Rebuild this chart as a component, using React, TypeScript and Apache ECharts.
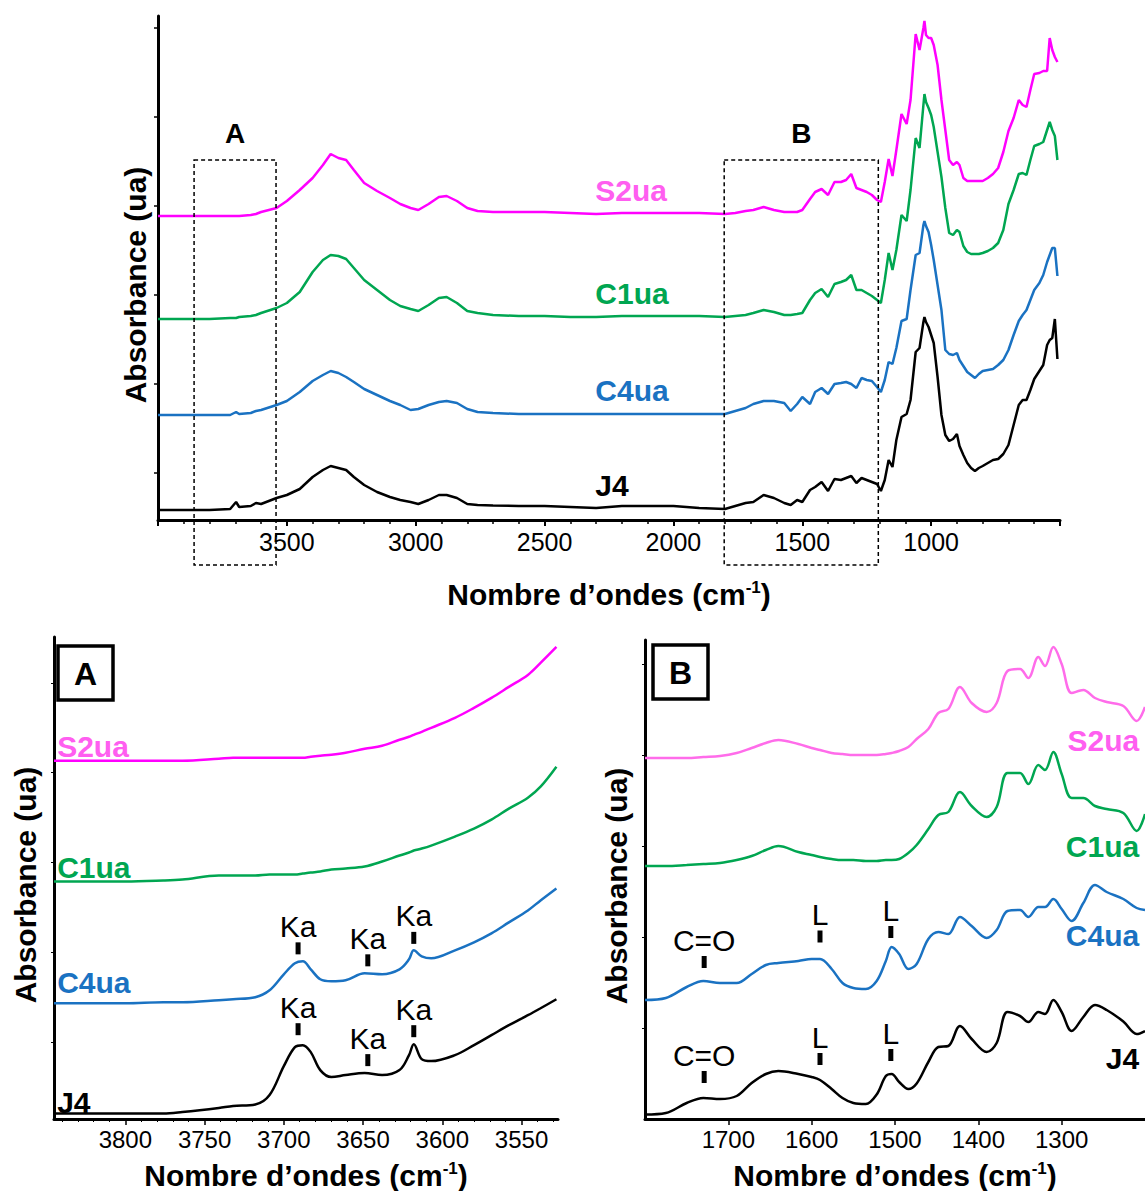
import React, { useEffect, useRef } from "react";
import * as echarts from "echarts";

const FONT = '"Liberation Sans", Arial, Helvetica, sans-serif';

// ---------------- Top panel (full spectrum) ----------------
const topWn = [
  4000, 3900, 3800, 3720, 3697, 3685, 3640, 3620, 3600, 3540,
  3500, 3450, 3400, 3360, 3330, 3300, 3270, 3240, 3200, 3150,
  3100, 3060, 3020, 2990, 2950, 2910, 2880, 2840, 2800, 2760,
  2700, 2600, 2500, 2400, 2300, 2200, 2100, 2000, 1900, 1800,
  1760, 1720, 1690, 1650, 1610, 1570, 1545, 1520, 1500, 1470,
  1450, 1425, 1400, 1375, 1350, 1330, 1310, 1290, 1270, 1250,
  1230, 1210, 1195, 1180, 1165, 1150, 1135, 1115, 1095, 1080,
  1060, 1045, 1030, 1026, 1020, 1010, 1000, 990, 975, 960,
  945, 930, 915, 900, 890, 875, 860, 845, 830, 815,
  800, 780, 760, 740, 720, 700, 680, 660, 645, 630,
  615, 600, 580, 565, 550, 540, 530, 520, 510,
];
const topJ4 = [
  0.10, 0.10, 0.10, 0.11, 0.18, 0.13, 0.14, 0.17, 0.16, 0.22,
  0.25, 0.31, 0.43, 0.50, 0.54, 0.52, 0.50, 0.43, 0.35, 0.28,
  0.23, 0.20, 0.18, 0.16, 0.20, 0.25, 0.25, 0.22, 0.16, 0.15,
  0.145, 0.14, 0.14, 0.13, 0.12, 0.14, 0.14, 0.14, 0.12, 0.11,
  0.14, 0.17, 0.18, 0.25, 0.22, 0.17, 0.15, 0.20, 0.18, 0.30,
  0.33, 0.38, 0.29, 0.41, 0.40, 0.42, 0.44, 0.37, 0.42, 0.40,
  0.38, 0.36, 0.29, 0.40, 0.60, 0.53, 0.80, 1.03, 1.06, 1.20,
  1.68, 1.72, 1.98, 2.03, 1.98, 1.93, 1.85, 1.77, 1.43, 1.05,
  0.85, 0.79, 0.81, 0.86, 0.74, 0.65, 0.57, 0.52, 0.49, 0.52,
  0.54, 0.57, 0.60, 0.61, 0.66, 0.75, 0.95, 1.15, 1.20, 1.20,
  1.30, 1.41, 1.49, 1.55, 1.75, 1.80, 1.82, 2.01, 1.61,
];
const topC4 = [
  1.05, 1.05, 1.05, 1.05, 1.08, 1.06, 1.07, 1.09, 1.10, 1.15,
  1.19, 1.28, 1.39, 1.45, 1.49, 1.47, 1.43, 1.38, 1.31, 1.25,
  1.19, 1.15, 1.10, 1.11, 1.15, 1.18, 1.19, 1.17, 1.11, 1.08,
  1.07, 1.06, 1.06, 1.06, 1.06, 1.06, 1.06, 1.06, 1.06, 1.06,
  1.09, 1.12, 1.16, 1.19, 1.19, 1.17, 1.09, 1.16, 1.23, 1.16,
  1.28, 1.32, 1.26, 1.36, 1.37, 1.38, 1.36, 1.32, 1.42, 1.40,
  1.39, 1.33, 1.28, 1.40, 1.58, 1.56, 1.72, 1.99, 2.01, 2.30,
  2.65, 2.67, 2.95, 2.99, 2.94, 2.88, 2.75, 2.60, 2.35, 2.10,
  1.70, 1.66, 1.65, 1.67, 1.60, 1.54, 1.48, 1.45, 1.42, 1.46,
  1.49, 1.50, 1.51, 1.55, 1.60, 1.70, 1.85, 1.99, 2.05, 2.10,
  2.20, 2.30, 2.37, 2.45, 2.58, 2.65, 2.72, 2.72, 2.44,
];
const topC1 = [
  2.01, 2.01, 2.01, 2.02, 2.02, 2.03, 2.04, 2.05, 2.07, 2.12,
  2.17, 2.28, 2.48, 2.60, 2.65, 2.64, 2.61, 2.52, 2.40, 2.30,
  2.20, 2.14, 2.11, 2.09, 2.15, 2.22, 2.23, 2.17, 2.09, 2.07,
  2.05, 2.04, 2.04, 2.03, 2.03, 2.04, 2.04, 2.04, 2.04, 2.03,
  2.04, 2.05, 2.07, 2.10, 2.08, 2.05, 2.05, 2.06, 2.07, 2.20,
  2.27, 2.31, 2.23, 2.36, 2.38, 2.40, 2.45, 2.30, 2.30, 2.27,
  2.24, 2.20, 2.17, 2.40, 2.67, 2.50, 2.70, 3.05, 2.99, 3.30,
  3.82, 3.72, 4.15, 4.26, 4.18, 4.12, 4.05, 3.93, 3.68, 3.43,
  3.12, 2.87, 2.85, 2.90, 2.88, 2.74, 2.68, 2.66, 2.66, 2.66,
  2.67, 2.69, 2.72, 2.77, 2.90, 3.16, 3.30, 3.46, 3.47, 3.45,
  3.60, 3.74, 3.76, 3.78, 3.90, 3.98, 3.90, 3.84, 3.60,
];
const topS2 = [
  3.04, 3.04, 3.04, 3.04, 3.04, 3.04, 3.05, 3.06, 3.08, 3.12,
  3.19, 3.30, 3.42, 3.55, 3.66, 3.62, 3.60, 3.50, 3.37, 3.29,
  3.22, 3.16, 3.12, 3.10, 3.16, 3.23, 3.24, 3.19, 3.12, 3.09,
  3.08, 3.08, 3.08, 3.07, 3.06, 3.07, 3.07, 3.07, 3.07, 3.06,
  3.07, 3.09, 3.10, 3.13, 3.10, 3.08, 3.08, 3.08, 3.10, 3.21,
  3.28, 3.31, 3.25, 3.38, 3.38, 3.40, 3.46, 3.32, 3.30, 3.28,
  3.25, 3.20, 3.18, 3.38, 3.61, 3.44, 3.70, 4.06, 3.96, 4.20,
  4.86, 4.70, 4.92, 4.99, 4.85, 4.82, 4.82, 4.75, 4.55, 4.20,
  3.90, 3.60, 3.55, 3.58, 3.55, 3.42, 3.39, 3.39, 3.39, 3.39,
  3.39, 3.42, 3.46, 3.52, 3.68, 3.89, 4.02, 4.20, 4.15, 4.13,
  4.30, 4.46, 4.47, 4.49, 4.49, 4.82, 4.70, 4.63, 4.58,
];
const topYTicks = [0.47, 1.36, 2.25, 3.14, 4.03, 4.92];
const topNames = ["S2ua", "C1ua", "C4ua", "J4"];
const topNameWn = [2303, 2303, 2303, 2303];
const topNameV = [3.30, 2.27, 1.30, 0.35];
const boxA = [3860, 3542];
const boxB = [1803, 1205];
const boxV = [3.60, -0.45];

// ---------------- Panel A (3845 - 3527 cm-1) ----------------
const aWn = [
  3845, 3800, 3776, 3764, 3741, 3732, 3718, 3709, 3700, 3693,
  3688, 3683, 3677, 3670, 3661, 3649, 3638, 3627, 3621, 3618,
  3613, 3607, 3592, 3580, 3569, 3558, 3546, 3538, 3528,
];
const aS2 = [
  3.59, 3.59, 3.59, 3.59, 3.61, 3.62, 3.62, 3.62, 3.62, 3.62,
  3.62, 3.63, 3.64, 3.65, 3.67, 3.71, 3.74, 3.80, 3.83, 3.85,
  3.88, 3.92, 4.02, 4.12, 4.22, 4.33, 4.45, 4.57, 4.73,
];
const aC1 = [
  2.38, 2.38, 2.39, 2.40, 2.44, 2.44, 2.44, 2.45, 2.45, 2.45,
  2.46, 2.47, 2.48, 2.50, 2.51, 2.53, 2.58, 2.64, 2.67, 2.69,
  2.71, 2.74, 2.83, 2.91, 3.00, 3.11, 3.22, 3.33, 3.53,
];
const aC4 = [
  1.16, 1.16, 1.17, 1.17, 1.19, 1.20, 1.22, 1.29, 1.45, 1.56,
  1.58, 1.50, 1.40, 1.38, 1.39, 1.46, 1.45, 1.50, 1.60, 1.69,
  1.63, 1.61, 1.69, 1.77, 1.86, 1.97, 2.09, 2.19, 2.31,
];
const aJ4 = [
  0.055, 0.055, 0.055, 0.07, 0.11, 0.13, 0.145, 0.24, 0.53, 0.72,
  0.74, 0.67, 0.49, 0.42, 0.44, 0.46, 0.44, 0.49, 0.64, 0.75,
  0.60, 0.58, 0.64, 0.74, 0.84, 0.94, 1.04, 1.11, 1.20,
];
const aLabelTicks = [3800, 3750, 3700, 3650, 3600, 3550];
const aMinorTicks = [
  3840, 3830, 3820, 3810, 3790, 3780, 3770, 3760, 3740, 3730, 3720, 3710,
  3690, 3680, 3670, 3660, 3640, 3630, 3620, 3610, 3590, 3580, 3570, 3560,
  3540, 3530,
];
const aYTicks = [0.77, 1.67, 2.57, 3.47, 4.37];
const aNameWn = 3843;
const aNameV = [3.73, 2.52, 1.37, 0.17];
const aKaWn = [3691, 3647, 3618, 3691, 3647, 3618];
const aKaV = [1.71, 1.59, 1.815, 0.90, 0.59, 0.88];
const aKaText = ["Ka", "Ka", "Ka", "Ka", "Ka", "Ka"];

// ---------------- Panel B (1800 - 1200 cm-1) ----------------
const bWn = [
  1800, 1775, 1750, 1730, 1710, 1690, 1672, 1655, 1640, 1616,
  1600, 1590, 1576, 1563, 1550, 1535, 1522, 1511, 1504, 1495,
  1484, 1474, 1460, 1448, 1436, 1422, 1408, 1390, 1378, 1365,
  1350, 1340, 1328, 1320, 1310, 1300, 1288, 1274, 1260, 1246,
  1226, 1210, 1200,
];
const bS2 = [
  3.61, 3.61, 3.61, 3.62, 3.63, 3.66, 3.71, 3.76, 3.79, 3.75,
  3.71, 3.69, 3.66, 3.65, 3.64, 3.64, 3.64, 3.65, 3.66, 3.68,
  3.72, 3.80, 3.90, 4.06, 4.10, 4.32, 4.16, 4.07, 4.16, 4.48,
  4.50, 4.41, 4.62, 4.53, 4.72, 4.55, 4.26, 4.29, 4.21, 4.17,
  4.13, 3.98, 4.12,
];
const bC1 = [
  2.53, 2.53, 2.54, 2.55, 2.56, 2.59, 2.63, 2.69, 2.73, 2.67,
  2.64, 2.62, 2.60, 2.59, 2.59, 2.58, 2.58, 2.59, 2.59, 2.60,
  2.66, 2.74, 2.90, 3.04, 3.07, 3.27, 3.13, 3.02, 3.12, 3.46,
  3.46, 3.35, 3.54, 3.49, 3.67, 3.45, 3.21, 3.21, 3.13, 3.10,
  3.06, 2.88, 3.05,
];
const bC4 = [
  1.19, 1.21, 1.32, 1.38, 1.36, 1.36, 1.45, 1.54, 1.56, 1.58,
  1.60, 1.60, 1.50, 1.36, 1.31, 1.30, 1.38, 1.58, 1.72, 1.65,
  1.50, 1.55, 1.80, 1.87, 1.85, 2.02, 1.93, 1.81, 1.89, 2.08,
  2.09, 2.02, 2.12, 2.12, 2.20, 2.10, 1.98, 2.16, 2.34, 2.27,
  2.20, 2.11, 2.09,
];
const bJ4 = [
  0.045, 0.06, 0.16, 0.21, 0.20, 0.23, 0.36, 0.45, 0.48, 0.45,
  0.42, 0.39, 0.30, 0.21, 0.16, 0.15, 0.245, 0.43, 0.45, 0.37,
  0.30, 0.355, 0.57, 0.72, 0.73, 0.93, 0.80, 0.67, 0.76, 1.07,
  1.03, 0.97, 1.07, 1.05, 1.19, 1.07, 0.88, 1.02, 1.14, 1.09,
  0.975, 0.85, 0.88,
];
const bYTicks = [0.91, 1.82, 2.73, 3.64, 4.55];
const bNameWn = 1207;
const bNameV = [3.79, 2.73, 1.84, 0.61];
const bMarkWn = [1729, 1590, 1505, 1729, 1590, 1505];
const bMarkV = [1.57, 1.825, 1.87, 0.42, 0.60, 0.64];
const bMarkText = ["C=O", "L", "L", "C=O", "L", "L"];

// ---------------- styling ----------------
const MAGENTA = "#ff00ff";
const PINK_LABEL = "#ff5ef0";
const PINK_SOFT = "#ff6cea";
const GREEN = "#00a651";
const BLUE = "#1a72c2";
const BLACK = "#000000";

const zip = (xs: number[], ys: number[]) => xs.map((x, i) => [x, ys[i]]);
const plain = (v: number) => String(v);

function line(xi: number, xs: number[], ys: number[], color: string, smooth: number | boolean, width: number) {
  return {
    type: "line",
    xAxisIndex: xi,
    yAxisIndex: xi === 0 ? 0 : xi === 1 || xi === 2 ? 1 : 2,
    data: zip(xs, ys),
    showSymbol: false,
    symbol: "none",
    smooth,
    silent: true,
    lineStyle: { color, width },
    itemStyle: { color },
    z: 3,
  };
}

function names(xi: number, yi: number, wns: number[], vs: number[], texts: string[], colors: string[], align: string) {
  return {
    type: "scatter",
    xAxisIndex: xi,
    yAxisIndex: yi,
    symbolSize: 0,
    silent: true,
    z: 6,
    itemStyle: { opacity: 1 },
    data: texts.map((t, i) => ({
      value: [wns[i], vs[i]],
      label: {
        show: true,
        formatter: t,
        position: [0, 0],
        align,
        verticalAlign: "middle",
        color: colors[i],
        opacity: 1,
        fontSize: 30,
        fontWeight: "bold",
        fontFamily: FONT,
      },
    })),
  };
}

function marks(xi: number, yi: number, wns: number[], vs: number[], texts: string[]) {
  return {
    type: "scatter",
    xAxisIndex: xi,
    yAxisIndex: yi,
    symbol: "rect",
    symbolSize: [5, 12],
    silent: true,
    z: 6,
    itemStyle: { color: BLACK, opacity: 1 },
    data: texts.map((t, i) => ({
      value: [wns[i], vs[i]],
      label: {
        show: true,
        formatter: t,
        position: "top",
        distance: 1,
        color: BLACK,
        opacity: 1,
        fontSize: 30,
        fontFamily: FONT,
      },
    })),
  };
}

const axisTitle = (gap: number) => ({
  name: "{b|Nombre d’ondes (cm}{s|-1}{b|)}",
  nameLocation: "middle",
  nameGap: gap,
  nameTextStyle: {
    rich: {
      b: { fontSize: 30, fontWeight: "bold", fontFamily: FONT, color: BLACK },
      s: { fontSize: 17, fontWeight: "bold", fontFamily: FONT, color: BLACK, verticalAlign: "top" },
    },
  },
});

function buildOption() {
  const labelColors = [PINK_LABEL, GREEN, BLUE, BLACK];
  return {
    animation: false,
    backgroundColor: "#ffffff",
    grid: [
      { left: 158, top: 16, width: 902, height: 504 },
      { left: 54, top: 637, width: 504, height: 483 },
      { left: 645, top: 640, width: 501, height: 479 },
    ],
    xAxis: [
      {
        gridIndex: 0,
        type: "value",
        position: "bottom",
        inverse: true,
        min: 500,
        max: 4000,
        interval: 500,
        axisLine: { lineStyle: { color: BLACK, width: 3 } },
        axisTick: { length: 6, lineStyle: { color: BLACK, width: 2 } },
        minorTick: { show: true, splitNumber: 5, length: 4, lineStyle: { color: BLACK, width: 1.5 } },
        splitLine: { show: false },
        minorSplitLine: { show: false },
        axisLabel: {
          fontSize: 25, color: BLACK, fontFamily: FONT, margin: 9,
          showMinLabel: false, showMaxLabel: false, formatter: plain,
        },
        ...axisTitle(59),
      },
      {
        gridIndex: 1,
        type: "value",
        position: "bottom",
        inverse: true,
        min: 3527,
        max: 3845,
        axisLine: { lineStyle: { color: BLACK, width: 3 } },
        axisTick: { customValues: aMinorTicks, length: 3, lineStyle: { color: BLACK, width: 1 } },
        splitLine: { show: false },
        axisLabel: { customValues: aLabelTicks, fontSize: 24, color: BLACK, fontFamily: FONT, margin: 8, formatter: plain },
        ...axisTitle(41),
      },
      {
        gridIndex: 1,
        type: "value",
        position: "bottom",
        offset: 0,
        inverse: true,
        min: 3527,
        max: 3845,
        axisLine: { show: false },
        axisTick: { customValues: aLabelTicks, length: 6, lineStyle: { color: BLACK, width: 1.5 } },
        splitLine: { show: false },
        axisLabel: { show: false },
      },
      {
        gridIndex: 2,
        type: "value",
        position: "bottom",
        inverse: true,
        min: 1200,
        max: 1800,
        interval: 100,
        axisLine: { lineStyle: { color: BLACK, width: 3 } },
        axisTick: { length: 6, lineStyle: { color: BLACK, width: 1.5 } },
        splitLine: { show: false },
        axisLabel: {
          fontSize: 24, color: BLACK, fontFamily: FONT, margin: 8,
          showMinLabel: false, showMaxLabel: false, formatter: plain,
        },
        ...axisTitle(41),
      },
    ],
    yAxis: [
      {
        gridIndex: 0,
        type: "value",
        min: 0,
        max: 5.04,
        axisLine: { show: true, lineStyle: { color: BLACK, width: 3 } },
        axisTick: { show: true, customValues: topYTicks, length: 4, lineStyle: { color: BLACK, width: 1.5 } },
        axisLabel: { show: false },
        splitLine: { show: false },
      },
      {
        gridIndex: 1,
        type: "value",
        min: 0,
        max: 4.83,
        axisLine: { show: true, lineStyle: { color: BLACK, width: 3 } },
        axisTick: { show: true, customValues: aYTicks, length: 3, lineStyle: { color: BLACK, width: 1 } },
        axisLabel: { show: false },
        splitLine: { show: false },
      },
      {
        gridIndex: 2,
        type: "value",
        min: 0,
        max: 4.79,
        axisLine: { show: true, lineStyle: { color: BLACK, width: 3 } },
        axisTick: { show: true, customValues: bYTicks, length: 3, lineStyle: { color: BLACK, width: 1 } },
        axisLabel: { show: false },
        splitLine: { show: false },
      },
    ],
    series: [
      line(0, topWn, topJ4, BLACK, false, 2.5),
      line(0, topWn, topC4, BLUE, false, 2.5),
      line(0, topWn, topC1, GREEN, false, 2.5),
      line(0, topWn, topS2, MAGENTA, false, 2.5),
      names(0, 0, topNameWn, topNameV, topNames, labelColors, "left"),

      line(1, aWn, aJ4, BLACK, 0.35, 2.5),
      line(1, aWn, aC4, BLUE, 0.35, 2.5),
      line(1, aWn, aC1, GREEN, 0.35, 2.5),
      line(1, aWn, aS2, MAGENTA, 0.35, 2.5),
      names(1, 1, topNames.map(() => aNameWn), aNameV, topNames, labelColors, "left"),
      marks(1, 1, aKaWn, aKaV, aKaText),

      line(3, bWn, bJ4, BLACK, 0.35, 2.5),
      line(3, bWn, bC4, BLUE, 0.35, 2.5),
      line(3, bWn, bC1, GREEN, 0.35, 2.5),
      line(3, bWn, bS2, PINK_SOFT, 0.35, 2.5),
      names(3, 2, topNames.map(() => bNameWn), bNameV, topNames, labelColors, "right"),
      marks(3, 2, bMarkWn, bMarkV, bMarkText),
    ],
  };
}

export default function App() {
  const ref = useRef<HTMLDivElement>(null);
  useEffect(() => {
    const chart = echarts.init(ref.current as HTMLDivElement, null, { renderer: "svg" });
    chart.setOption(buildOption() as any);

    const px = (wn: number, v: number) =>
      chart.convertToPixel({ xAxisIndex: 0, yAxisIndex: 0 } as any, [wn, v]) as number[];
    const box = (range: number[], letter: string) => {
      const p1 = px(range[0], boxV[0]);
      const p2 = px(range[1], boxV[1]);
      return [
        {
          type: "rect",
          shape: { x: p1[0], y: p1[1], width: p2[0] - p1[0], height: p2[1] - p1[1] },
          style: { fill: "none", stroke: BLACK, lineWidth: 1.5, lineDash: [4, 3] },
          z: 10,
        },
        {
          type: "text",
          x: (p1[0] + p2[0]) / 2,
          y: p1[1] - 27,
          style: {
            text: letter,
            font: `bold 28px ${FONT}`,
            fill: BLACK,
            align: "center",
            verticalAlign: "middle",
            textAlign: "center",
            textVerticalAlign: "middle",
          },
          z: 10,
        },
      ];
    };
    const yTitle = (x: number, y: number) => ({
      type: "text",
      x,
      y,
      rotation: Math.PI / 2,
      style: {
        text: "Absorbance (ua)",
        font: `bold 30px ${FONT}`,
        fill: BLACK,
        align: "center",
        verticalAlign: "middle",
        textAlign: "center",
        textVerticalAlign: "middle",
      },
      z: 10,
    });
    const panelTag = (x: number, y: number, letter: string) => [
      {
        type: "rect",
        shape: { x, y, width: 55, height: 54 },
        style: { fill: "#fff", stroke: BLACK, lineWidth: 3.5 },
        z: 10,
      },
      {
        type: "text",
        x: x + 27.5,
        y: y + 28,
        style: {
          text: letter,
          font: `bold 32px ${FONT}`,
          fill: BLACK,
          align: "center",
          verticalAlign: "middle",
          textAlign: "center",
          textVerticalAlign: "middle",
        },
        z: 11,
      },
    ];

    chart.setOption({
      graphic: [
        ...box(boxA, "A"),
        ...box(boxB, "B"),
        yTitle(135, 285),
        yTitle(25, 885),
        yTitle(616, 886),
        ...panelTag(58, 646, "A"),
        ...panelTag(653, 645, "B"),
      ],
    } as any);

    return () => chart.dispose();
  }, []);
  return (
    <div
      ref={ref}
      style={{ position: "absolute", left: 0, top: 0, width: 1145, height: 1191, background: "#fff" }}
    />
  );
}
